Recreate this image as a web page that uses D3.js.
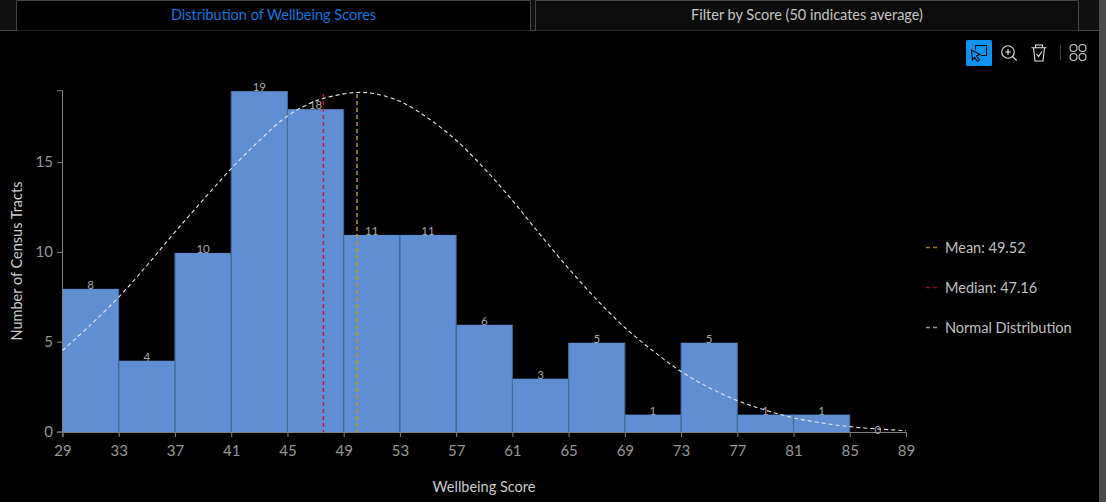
<!DOCTYPE html>
<html>
<head>
<meta charset="utf-8">
<script src="https://cdn.jsdelivr.net/npm/d3@7"></script>
<style>
  html, body { margin: 0; padding: 0; background: #000; overflow: hidden; }
  text { font-family: Lato, sans-serif; }
  .tick text { fill: #9a9a9a; font-size: 15px; opacity: 0.99; }
  .domain, .tick line { stroke: #808080; }
  .barLabel { fill: #ababab; font-size: 11.5px; text-anchor: middle; opacity: 0.99; }
  .axisTitle { fill: #cfcfcf; font-size: 14.5px; text-anchor: middle; opacity: 0.99; }
  .legendText { fill: #c4c4c4; font-size: 14.5px; opacity: 0.99; }
</style>
</head>
<body>
<div id="chart"></div>
<script>
// Histogram data
var binEdges = [29, 33, 37, 41, 45, 49, 53, 57, 61, 65, 69, 73, 77, 81, 85, 89]
var binCounts = [8, 4, 10, 19, 18, 11, 11, 6, 3, 5, 1, 5, 1, 1, 0]
var yTicks = [0, 5, 10, 15]

// Guide lines, as drawn on the x axis
var meanScore = 49.95
var medianScore = 47.56
var guideTop = 18.85

// Normal curve
var curveScores = [29, 31, 33, 35, 37, 39, 41, 43, 45, 47, 49, 50, 51, 53, 55, 57, 59, 61, 63, 65, 67, 69, 71, 73, 75, 77, 79, 81, 83, 85, 87, 89]
var curveValues = [4.57, 6.0, 7.54, 9.3, 11.16, 12.95, 14.69, 16.25, 17.62, 18.45, 18.85, 18.93, 18.89, 18.44, 17.5, 16.27, 14.7, 12.92, 11.0, 9.13, 7.4, 5.85, 4.55, 3.4, 2.5, 1.78, 1.25, 0.82, 0.54, 0.33, 0.2, 0.11]

var legendLabels = ["Mean: 49.52", "Median: 47.16", "Normal Distribution"]
var legendColors = ["#9a7d00", "#8a0c18", "#969696"]
var tabLabels = ["Distribution of Wellbeing Scores", "Filter by Score (50 indicates average)"]

var svgWidth = 1106
var svgHeight = 502

var svg = d3.select("#chart")
  .append("svg")
  .attr("width", svgWidth)
  .attr("height", svgHeight)
  .style("display", "block")

// Header bar with the two tabs
svg.append("rect").attr("width", svgWidth).attr("height", 30).attr("fill", "#101010")
svg.append("line")
  .attr("x1", 0).attr("x2", svgWidth).attr("y1", 30.5).attr("y2", 30.5)
  .attr("stroke", "#474747")

var tabs = [
  {x: 16.5, w: 514, fill: "#000", color: "#0a7be0"},
  {x: 535.5, w: 543, fill: "#0c0c0c", color: "#c9c9c9"}
]
tabs.forEach(function(tab, i) {
  svg.append("path")
    .attr("d", `M${tab.x},30.5V0.5H${tab.x + tab.w}V30.5`)
    .attr("fill", tab.fill)
    .attr("stroke", "#474747")
  svg.append("text")
    .attr("x", tab.x + tab.w / 2)
    .attr("y", 19.5)
    .attr("text-anchor", "middle")
    .attr("font-size", 14.5)
    .attr("opacity", 0.99)
    .attr("fill", tab.color)
    .text(tabLabels[i])
})

// Scales
var xScale = d3.scaleLinear().domain([29, 89]).range([62.5, 906])
var yScale = d3.scaleLinear().domain([0, 19]).range([432.6, 91.2])

// Bars
var bars = svg.append("g")
bars.selectAll("rect")
  .data(binCounts)
  .enter()
  .append("rect")
  .attr("x", (d, i) => xScale(binEdges[i]))
  .attr("y", d => yScale(d))
  .attr("width", (d, i) => xScale(binEdges[i + 1]) - xScale(binEdges[i]))
  .attr("height", d => yScale(0) - yScale(d))
  .attr("fill", "#5f8fd2")

// Darker sides on each bar
bars.selectAll("path")
  .data(binCounts)
  .enter()
  .append("path")
  .attr("d", (d, i) => `M${xScale(binEdges[i])},${yScale(d)}V${yScale(0)}M${xScale(binEdges[i + 1])},${yScale(d)}V${yScale(0)}`)
  .attr("stroke", "#466a99")
  .attr("stroke-width", 1)
  .attr("fill", "none")

// Axes
var bottomAxis = d3.axisBottom(xScale)
  .tickValues(binEdges)
  .tickFormat(d3.format("d"))
  .tickSizeOuter(0)
  .tickSize(5)
  .tickPadding(8)

var leftAxis = d3.axisLeft(yScale)
  .tickValues(yTicks)
  .tickSizeOuter(0)
  .tickSize(5)
  .tickPadding(4)

svg.append("g")
  .attr("transform", "translate(0, 432)")
  .call(bottomAxis)

svg.append("g")
  .attr("transform", "translate(62, -1)")
  .call(leftAxis)

// Count labels
svg.append("g").selectAll("text")
  .data(binCounts)
  .enter()
  .append("text")
  .classed("barLabel", true)
  .attr("x", (d, i) => (xScale(binEdges[i]) + xScale(binEdges[i + 1])) / 2)
  .attr("y", d => yScale(d) + (d === 0 ? 1 : 0))
  .text(d => d)

// Mean and median guides
svg.append("line")
  .attr("x1", xScale(medianScore)).attr("x2", xScale(medianScore))
  .attr("y1", yScale(guideTop)).attr("y2", yScale(0))
  .attr("stroke", "#c8143c")
  .attr("stroke-width", 1.4)
  .attr("stroke-dasharray", "4 3")

svg.append("line")
  .attr("x1", xScale(meanScore)).attr("x2", xScale(meanScore))
  .attr("y1", yScale(guideTop)).attr("y2", yScale(0))
  .attr("stroke", "#c29a14")
  .attr("stroke-width", 1.5)
  .attr("stroke-dasharray", "4 3")

// Normal curve
var curveLine = d3.line()
  .x(d => xScale(d))
  .y((d, i) => yScale(curveValues[i]))
  .curve(d3.curveCatmullRom)

svg.append("path")
  .attr("d", curveLine(curveScores))
  .attr("fill", "none")
  .attr("stroke", "#e8e8e8")
  .attr("stroke-width", 1.1)
  .attr("stroke-dasharray", "4 3")

// Axis titles
svg.append("text")
  .classed("axisTitle", true)
  .attr("x", 484)
  .attr("y", 492)
  .text("Wellbeing Score")

svg.append("text")
  .classed("axisTitle", true)
  .attr("transform", "translate(22, 261) rotate(-90)")
  .text("Number of Census Tracts")

// Legend
var legend = svg.append("g").selectAll("g")
  .data(legendLabels)
  .enter()
  .append("g")
  .attr("transform", (d, i) => `translate(926, ${247.5 + i * 40})`)

legend.append("line")
  .attr("x1", 0).attr("x2", 11)
  .attr("stroke", (d, i) => legendColors[i])
  .attr("stroke-width", 1.5)
  .attr("stroke-dasharray", "4 3")

legend.append("text")
  .classed("legendText", true)
  .attr("x", 19)
  .attr("y", 5.5)
  .text(d => d)

// Toolbar icons
svg.append("rect")
  .attr("x", 966).attr("y", 40).attr("width", 26).attr("height", 26).attr("rx", 1.5)
  .attr("fill", "#0d92ef")

var tools = svg.append("g").attr("fill", "none").attr("stroke", "#e6e6e6").attr("stroke-width", 1.1)

var selectIcon = tools.append("g").attr("stroke", "#0a0a0a")
selectIcon.append("path").attr("d", "M975.5,49.5V45.5H986.5V55.5H981")
selectIcon.append("path").attr("d", "M971.5,50L980,54.5L976.5,56L979.5,60L977.5,61.5L974.5,57.5L972.5,60Z")

tools.append("circle").attr("cx", 1008).attr("cy", 52).attr("r", 6.3)
tools.append("path").attr("d", "M1005,52H1011M1008,49V55M1012.5,56.5L1016.7,60.5")

tools.append("path").attr("d", "M1031.5,47.7H1046.5M1035.5,47.7V45H1042.5V47.7M1033.5,47.7L1035,61H1043L1044.5,47.7M1036.5,54L1038.5,56.5L1042,51.5")

tools.append("line").attr("x1", 1060.5).attr("x2", 1060.5).attr("y1", 45).attr("y2", 60.5).attr("stroke", "#3c3c3c")

var dotX = [1073.5, 1082.5]
var dotY = [48, 57]
dotX.forEach(function(cx) {
  dotY.forEach(function(cy) {
    tools.append("circle").attr("cx", cx).attr("cy", cy).attr("r", 3.5).attr("stroke", "#d0d0d0")
  })
})

// Scrollbar strip on the right edge
svg.append("rect")
  .attr("x", 1099).attr("y", 0).attr("width", 7).attr("height", svgHeight)
  .attr("fill", "#4a4a4a")
</script>
</body>
</html>
